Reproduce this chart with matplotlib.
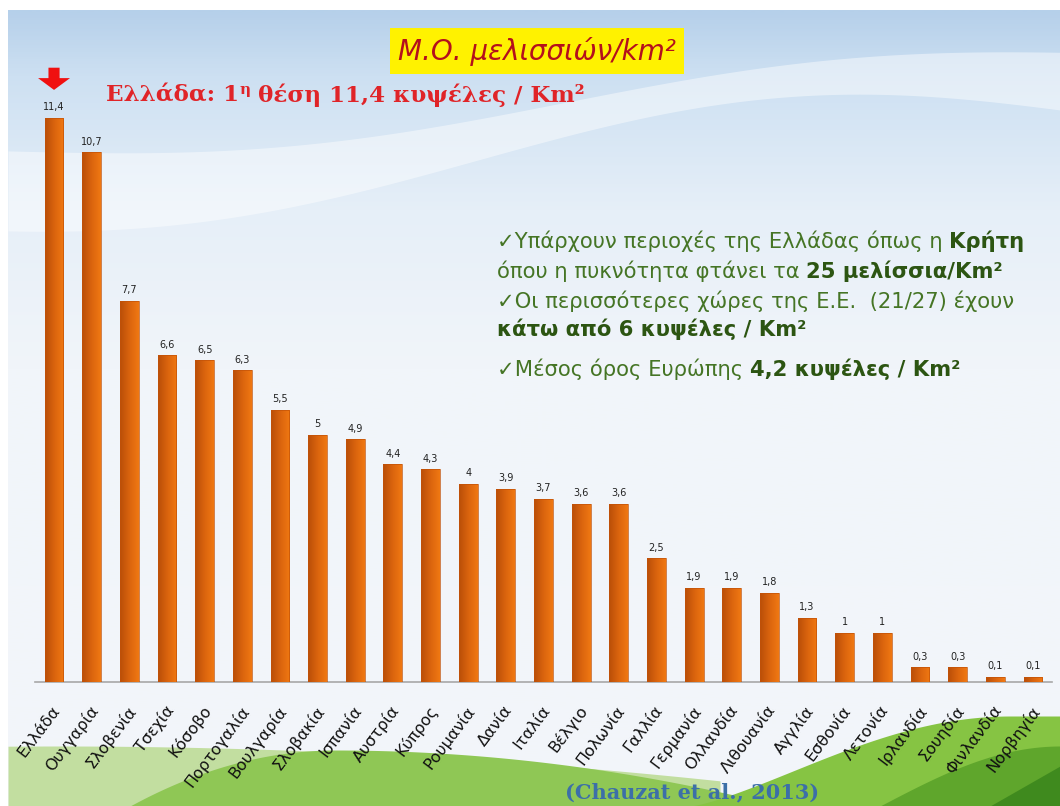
import numpy as np
import matplotlib
matplotlib.use("Agg")
import matplotlib.pyplot as plt
from matplotlib.colors import LinearSegmentedColormap
import matplotlib.transforms as mtransforms

# ---------------- data ----------------
countries = ["Ελλάδα", "Ουγγαρία", "Σλοβενία", "Τσεχία", "Κόσοβο", "Πορτογαλία",
             "Βουλγαρία", "Σλοβακία", "Ισπανία", "Αυστρία", "Κύπρος", "Ρουμανία",
             "Δανία", "Ιταλία", "Βέλγιο", "Πολωνία", "Γαλλία", "Γερμανία",
             "Ολλανδία", "Λιθουανία", "Αγγλία", "Εσθονία", "Λετονία", "Ιρλανδία",
             "Σουηδία", "Φινλανδία", "Νορβηγία"]
hives_per_km2 = [11.4, 10.7, 7.7, 6.6, 6.5, 6.3, 5.5, 5.0, 4.9, 4.4, 4.3, 4.0,
                 3.9, 3.7, 3.6, 3.6, 2.5, 1.9, 1.9, 1.8, 1.3, 1.0, 1.0, 0.3,
                 0.3, 0.1, 0.1]

title = "Μ.Ο. μελισσιών/km²"
source = "(Chauzat et al., 2013)"

W, H = 1060, 806
fig = plt.figure(figsize=(W / 100, H / 100), dpi=100)

# ---------------- decorative background (pixel coords) ----------------
bg = fig.add_axes([0, 0, 1, 1], zorder=0)
bg.set_xlim(0, W)
bg.set_ylim(H, 0)
bg.axis("off")

cmap = LinearSegmentedColormap.from_list(
    "sky", [(0.0, "#B6D0EA"), (0.08, "#CDE0F2"), (0.25, "#E6EFF8"), (0.45, "#F1F5FA"), (1.0, "#F3F6FA")])
grad = np.linspace(0, 1, 400).reshape(-1, 1)
bg.imshow(grad, cmap=cmap, aspect="auto", extent=(8, W, H, 10), zorder=0)
xs = np.linspace(8, W, 300)
up = 150 - 90 * (xs - 8) / (W - 8) + 20 * np.sin(xs / 180)
lo = up + 55 + 25 * np.cos(xs / 220)
bg.fill_between(xs, up, lo, color="white", alpha=0.45, lw=0, zorder=1)

xa = np.linspace(8, 720, 300)
bg.fill_between(xa, 746 + 0.00008 * (xa - 60) ** 2, H, color="#C2DEA0", lw=0, zorder=2)
xb = np.linspace(120, 780, 300)
hb = 750 + 56 * ((xb - 335) / np.where(xb < 335, 205, 445)) ** 2
bg.fill_between(xb, np.minimum(hb, H), H, color="#8FC755", lw=0, zorder=3)
xc = np.linspace(690, W, 300)
t = np.clip((xc - 690) / 320, 0, 1)
hc = H - 90 * (np.sin(t * np.pi / 2)) ** 1.3
bg.fill_between(xc, hc, H, color="#86C443", lw=0, zorder=4)
xd = np.linspace(880, W, 200)
td = np.clip((xd - 880) / 180, 0, 1)
hd = H - 60 * np.sin(td * np.pi / 2)
bg.fill_between(xd, hd, H, color="#5FA62C", lw=0, zorder=5)
xe = np.linspace(990, W, 100)
te = np.clip((xe - 990) / 70, 0, 1)
bg.fill_between(xe, H - 40 * te, H, color="#3F8A1E", lw=0, zorder=6)

# ---------------- main chart ----------------
ax = fig.add_axes([35.2 / W, 124 / H, 1016.6 / W, 613.8 / H], zorder=2)
ax.patch.set_alpha(0)
x = np.arange(len(countries))
bars = ax.bar(x, hives_per_km2, width=0.5, color="none", edgecolor="#C25208",
              linewidth=0.5, zorder=4)
barcmap = LinearSegmentedColormap.from_list("bar", ["#B94E08", "#DA640E", "#F07812"])
hgrad = np.linspace(0, 1, 64).reshape(1, -1)
for b in bars:
    im = ax.imshow(hgrad, cmap=barcmap, aspect="auto", zorder=3,
                   extent=(b.get_x(), b.get_x() + b.get_width(), 0, b.get_height()))
    im.set_clip_path(b)
ax.set_xlim(-0.5, len(countries) - 0.5)
ax.set_ylim(0, 12.4)
ax.set_aspect("auto")
ax.set_yticks([])
for s in ["top", "right", "left"]:
    ax.spines[s].set_visible(False)
ax.spines["bottom"].set_color("#A8A8A8")
ax.spines["bottom"].set_linewidth(1.2)
ax.set_xticks(x)
ax.set_xticklabels(countries, rotation=53, ha="right", va="top",
                   rotation_mode="anchor", fontsize=11.5, family="DejaVu Sans",
                   color="#111111")
ax.tick_params(axis="x", length=0, pad=15)
for lbl in ax.get_xticklabels():
    lbl.set_transform(lbl.get_transform() + mtransforms.ScaledTranslation(-2 / 72, 0, fig.dpi_scale_trans))

for xi, v in zip(x, hives_per_km2):
    ax.annotate(f"{v:g}".replace(".", ","), xy=(xi, v), xytext=(0, 4),
                textcoords="offset points", ha="center", va="bottom",
                fontsize=7, color="#222222", family="DejaVu Sans")

# red arrow marking Greece
ax.annotate("", xy=(x[0], hives_per_km2[0]), xytext=(0, 36), textcoords="offset points",
            arrowprops=dict(arrowstyle="simple,head_width=2.3,head_length=0.85,tail_width=0.8",
                            mutation_scale=10, color="#F01010", lw=0,
                            shrinkA=0, shrinkB=20),
            annotation_clip=False)

# ---------------- texts ----------------
ov = fig.add_axes([0, 0, 1, 1], zorder=5)
ov.set_xlim(0, W)
ov.set_ylim(H, 0)
ov.axis("off")
ov.patch.set_alpha(0)

ov.text(537, 51, title, ha="center", va="center", fontsize=20, style="italic",
        family="DejaVu Sans", color="#B4101C",
        bbox=dict(boxstyle="square,pad=0.3", facecolor="#FFF200", edgecolor="none"))


def runs(x0, y0, parts, size, family, color_default):
    prev = None
    prev_dy = 0
    for p in parts:
        s = p[0]
        opts = dict(p[1]) if len(p) > 1 else {}
        dy = opts.pop("dy", 0)
        fs = opts.pop("size", size)
        kw = dict(fontsize=fs, family=family, color=color_default, ha="left", va="bottom")
        kw.update(opts)
        if prev is None:
            prev = ov.text(x0, y0, s, **kw)
        else:
            prev = ov.annotate(s, xy=(1, 0), xycoords=prev, xytext=(0, dy - prev_dy),
                               textcoords="offset points", **kw)
        prev_dy = dy


serif = ["DejaVu Serif"]
runs(106, 107, [("Ελλάδα: 1", {"fontweight": "bold"}),
                ("η", {"fontweight": "bold", "size": 11, "dy": 7}),
                (" θέση 11,4 κυψέλες / Km²", {"fontweight": "bold"})],
     16.6, serif, "#E02428")

sans = ["DejaVu Sans"]
g = "#457525"
gb = "#2C5512"
lines = [
    (252, [("✓Υπάρχουν περιοχές της Ελλάδας όπως η ",), ("Κρήτη", {"fontweight": "bold", "color": gb})]),
    (282, [("όπου η πυκνότητα φτάνει τα ",), ("25 μελίσσια/Km²", {"fontweight": "bold", "color": gb})]),
    (312, [("✓Οι περισσότερες χώρες της Ε.Ε.  (21/27) έχουν",)]),
    (340, [("κάτω από 6 κυψέλες / Km²", {"fontweight": "bold", "color": gb})]),
    (380, [("✓Μέσος όρος Ευρώπης ",), ("4,2 κυψέλες / Km²", {"fontweight": "bold", "color": gb})]),
]
for y0, parts in lines:
    runs(497, y0, parts, 15.2, sans, g)

ov.text(565, 802, source, ha="left", va="bottom", fontsize=15, fontweight="bold",
        family=serif, color="#3C6FA8")

fig.savefig("out.png", dpi=100)
